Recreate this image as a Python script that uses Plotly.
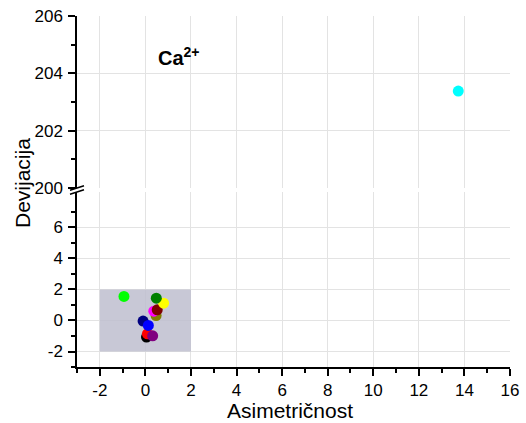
import plotly.graph_objects as go

# Data
colors = ["#000000", "#FF0000", "#800080", "#000080", "#0000FF", "#808000",
          "#FF00FF", "#800000", "#FFFF00", "#008000", "#00FF00"]
asym_low = [0.05, 0.09, 0.32, -0.10, 0.13, 0.47, 0.37, 0.52, 0.80, 0.48, -0.94]
dev_low = [-1.07, -0.86, -0.99, -0.04, -0.32, 0.32, 0.60, 0.69, 1.12, 1.44, 1.55]

asym_high = [13.73]
dev_high = [203.38]
color_high = ["#00FFFF"]

x_ticks = [-2, 0, 2, 4, 6, 8, 10, 12, 14, 16]
x_labels = ["-2", "0", "2", "4", "6", "8", "10", "12", "14", "16"]
x_minor = [-3, -1, 1, 3, 5, 7, 9, 11, 13, 15]
y_low_ticks = [-2, 0, 2, 4, 6]
y_low_labels = ["-2", "0", "2", "4", "6"]
y_low_minor = [-3, -1, 1, 3, 5, 7]
y_high_ticks = [200, 202, 204, 206]
y_high_labels = ["200", "202", "204", "206"]
y_high_minor = [201, 203, 205]

rect_x = [-2, 2]
rect_y = [-2, 2]

FONT = "Liberation Sans, Arial, sans-serif"

# plot area in pixels
L, R, T, B = 77, 510, 16, 367
W, H = 526, 423

fig = go.Figure()
fig.add_trace(go.Scatter(x=asym_low, y=dev_low, mode="markers", xaxis="x", yaxis="y",
                         marker=dict(color=colors, size=11, line=dict(width=0)),
                         showlegend=False))
fig.add_trace(go.Scatter(x=asym_high, y=dev_high, mode="markers", xaxis="x", yaxis="y2",
                         marker=dict(color=color_high, size=11, line=dict(width=0)),
                         showlegend=False))

axis_common = dict(showline=True, linecolor="black", linewidth=1.5, ticks="outside",
                   ticklen=7, tickwidth=1.5, tickcolor="black", showgrid=True,
                   gridcolor="#E3E3E3", gridwidth=1, zeroline=False,
                   automargin=False,
                   tickfont=dict(family=FONT, size=17, color="black"))

minor_common = dict(tickmode="array", ticklen=4, tickcolor="black", tickwidth=1.5,
                    ticks="outside", showgrid=False)

fig.update_layout(
    width=W, height=H, autosize=False,
    margin=dict(l=L, r=W - R, t=T, b=H - B, pad=0),
    plot_bgcolor="white", paper_bgcolor="white",
    xaxis=dict(range=[-3, 16], tickmode="array", tickvals=x_ticks, ticktext=x_labels,
               anchor="y", ticklabelstandoff=0,
               minor=dict(tickvals=x_minor, **minor_common), **axis_common),
    yaxis=dict(domain=[0, 0.4986], range=[-3, 8.29], tickmode="array", tickvals=y_low_ticks,
               ticktext=y_low_labels, anchor="x", ticklabelstandoff=2,
               minor=dict(tickvals=y_low_minor, **minor_common), **axis_common),
    yaxis2=dict(domain=[0.51, 1], range=[200, 206], tickmode="array", tickvals=y_high_ticks,
                ticktext=y_high_labels, anchor="x", ticklabelstandoff=2,
                minor=dict(tickvals=y_high_minor, **minor_common), **axis_common),
)

fig.add_shape(type="rect", xref="x", yref="y", x0=rect_x[0], x1=rect_x[1],
              y0=rect_y[0], y1=rect_y[1], fillcolor="rgba(191,191,207,0.86)",
              line=dict(width=0), layer="between")


def p2p(px, py):
    return (px - L) / (R - L), (B - py) / (B - T)


for (ax, ay, bx, by) in [(70, 190.3, 84, 185.7), (70, 194.3, 84, 189.7)]:
    x0, y0 = p2p(ax, ay)
    x1, y1 = p2p(bx, by)
    fig.add_shape(type="line", xref="paper", yref="paper", x0=x0, y0=y0, x1=x1, y1=y1,
                  line=dict(color="black", width=1.5))

fig.add_annotation(text="<b>Ca<sup>2+</sup></b>", xref="x", yref="y2", x=0.45, y=204.6,
                   xanchor="left", yanchor="middle", showarrow=False,
                   font=dict(family=FONT, size=20, color="black"))
tx, ty = p2p(22, 183)
fig.add_annotation(text="Devijacija", xref="paper", yref="paper", x=tx, y=ty,
                   textangle=-90, xanchor="center", yanchor="middle", showarrow=False,
                   font=dict(family=FONT, size=21, color="black"))
tx, ty = p2p(290, 410)
fig.add_annotation(text="Asimetričnost", xref="paper", yref="paper", x=tx, y=ty,
                   xanchor="center", yanchor="middle", showarrow=False,
                   font=dict(family=FONT, size=21, color="black"))

fig.write_html("out.html")
